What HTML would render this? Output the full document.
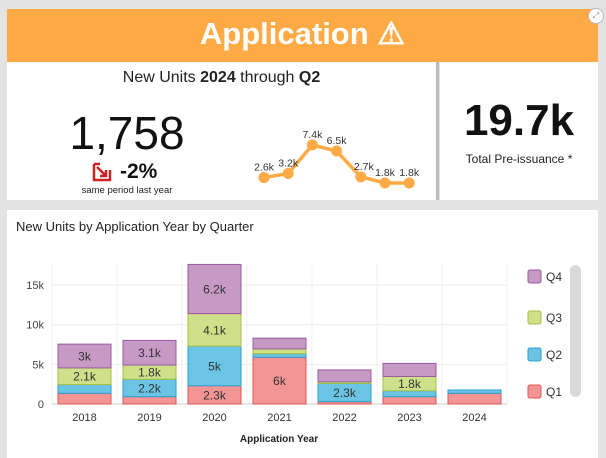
<!DOCTYPE html>
<html><head><meta charset="utf-8"><style>
body{margin:0;width:606px;height:458px;background:#e3e3e3;font-family:"Liberation Sans",sans-serif;position:relative;overflow:hidden}
.abs{position:absolute}
</style></head><body>
<div class="abs" style="left:7px;top:9px;width:591px;height:53px;background:#ffaa45;color:#fff;font-size:31px;font-weight:bold;text-align:center;line-height:50px">Application ⚠</div>
<div class="abs" style="left:588px;top:8px;width:14px;height:14px;border-radius:50%;background:#fff;border:1px solid #bbb;font-size:8px;text-align:center;line-height:14px;color:#888">⤢</div>
<div class="abs" style="left:7px;top:62px;width:429px;height:138px;background:#fff"></div>
<div class="abs" style="left:436px;top:62px;width:3px;height:138px;background:#bbb"></div>
<div class="abs" style="left:440px;top:62px;width:158px;height:138px;background:#fff"></div>
<div class="abs" style="left:7px;top:69px;width:429px;text-align:center;font-size:16px;color:#222">New Units <b>2024</b> through <b>Q2</b></div>
<div class="abs" style="left:27px;top:108px;width:200px;text-align:center;font-size:46px;color:#111;line-height:50px">1,758</div>
<svg class="abs" style="left:92px;top:162px" width="20" height="20" viewBox="0 0 20 20"><path d="M2 2 L8 2 M2 2 L2 18 L18 18 L18 8 M5 5 L14 14 M14 8 L14 14 L8 14" stroke="#cc2222" stroke-width="2.5" fill="none"/></svg>
<div class="abs" style="left:120px;top:160px;font-size:21px;font-weight:bold;color:#111">-2%</div>
<div class="abs" style="left:27px;top:185px;width:200px;text-align:center;font-size:9.5px;color:#222">same period last year</div>
<div class="abs" style="left:440px;top:96px;width:158px;text-align:center;font-size:44px;font-weight:bold;color:#111">19.7k</div>
<div class="abs" style="left:440px;top:152px;width:158px;text-align:center;font-size:12px;color:#222">Total Pre-issuance *</div>
<svg class="abs" id="spark" style="left:240px;top:110px" width="190" height="85"></svg>
<div class="abs" style="left:7px;top:210px;width:591px;height:248px;background:#fff"></div>
<div class="abs" style="left:16px;top:219px;font-size:13px;color:#222">New Units by Application Year by Quarter</div>
<svg class="abs" id="chart" style="left:0;top:0" width="606" height="458"></svg>
<div class="abs" style="left:570px;top:265px;width:11px;height:132px;background:#d9d9d9;border-radius:6px"></div>
<script>
const sparkVals=[2.6,3.2,7.4,6.5,2.7,1.8,1.8];
const sparkLabels=["2.6k","3.2k","7.4k","6.5k","2.7k","1.8k","1.8k"];
const years=["2018","2019","2020","2021","2022","2023","2024"];
const q1=[1.35,0.92,2.3,5.9,0.3,0.92,1.35];
const q2=[1.1,2.2,5.0,0.45,2.3,0.75,0.42];
const q3=[2.1,1.8,4.1,0.6,0.2,1.8,0];
const q4=[3.0,3.1,6.2,1.35,1.5,1.65,0];
const q1Lab=["","","2.3k","6k","","",""];
const q2Lab=["","2.2k","5k","","2.3k","",""];
const q3Lab=["2.1k","1.8k","4.1k","","","1.8k",""];
const q4Lab=["3k","3.1k","6.2k","","","",""];
const yTicks=[0,5,10,15];
const yTickLabels=["0","5k","10k","15k"];
const NS="http://www.w3.org/2000/svg";
function mk(p,t,a,txt){const e=document.createElementNS(NS,t);for(const k in a)e.setAttribute(k,a[k]);if(txt!==undefined)e.textContent=txt;p.appendChild(e);return e;}
const sp=document.getElementById('spark');
const sx=i=>24+i*24.2, sy=v=>73-(v-1.8)*6.8;
let d=sparkVals.map((v,i)=>(i?'L':'M')+sx(i)+' '+sy(v)).join(' ');
const pl=mk(sp,'path',{d:d,stroke:'#ffaa45','stroke-width':3.5,fill:'none'});


sparkVals.forEach((v,i)=>{
 const c=mk(sp,'circle',{cx:sx(i),cy:sy(v),r:5.5,fill:'#ffaa45'});
 
 
 const t=mk(sp,'text',{x:sx(i)+(i==4?3:0),y:sy(v)-7,'text-anchor':'middle','font-size':10.5,fill:'#333'},sparkLabels[i]);
 
 
});
const ch=document.getElementById('chart');
const L=52,R=507,Y0=404,K=7.93;
const bw=(R-L)/years.length;
const X=i=>L+bw*i, Y=v=>Y0-v*K;
yTicks.forEach((t,i)=>{
 const g=mk(ch,'line',{x1:L,x2:R,y1:Y(t),y2:Y(t),stroke:i?'#eee':'#ccc'});
 
 
 const tl=mk(ch,'text',{x:L-8,y:Y(t)+4,'text-anchor':'end','font-size':11,fill:'#444'},yTickLabels[i]);
 
 
});
years.forEach((y,i)=>{
 const vl=mk(ch,'line',{x1:X(i),x2:X(i),y1:264,y2:Y0,stroke:'#f0f0f0'});
 
 
});
mk(ch,'line',{x1:R,x2:R,y1:264,y2:Y0,stroke:'#f0f0f0'});
const series=[[q1,q1Lab,'#f49595','#e05555'],[q2,q2Lab,'#6cc4e4','#2a9fd0'],[q3,q3Lab,'#cfe08a','#a5c040'],[q4,q4Lab,'#c79ac6','#9a5aa0']];
const names=['q1','q2','q3','q4'];
years.forEach((y,i)=>{
 let base=0;
 series.forEach((s,j)=>{
  const v=s[0][i]; if(v<=0)return;
  const x=X(i)+(bw-53)/2;
  const r=mk(ch,'rect',{x:x,y:Y(base+v),width:53,height:v*K,fill:s[2],stroke:s[3],'stroke-width':1});
  
  
  if(s[1][i]){
   const t=mk(ch,'text',{x:x+26.5,y:Y(base+v/2)+4.5,'text-anchor':'middle','font-size':12,fill:'#333'},s[1][i]);
   
   
  }
  base+=v;
 });
 const xl=mk(ch,'text',{x:X(i)+bw/2,y:421,'text-anchor':'middle','font-size':11,fill:'#333'},y);
 
 
});
const at=mk(ch,'text',{x:279,y:442,'text-anchor':'middle','font-size':10,'font-weight':'bold',fill:'#222'},'Application Year');


const leg=[['Q4',3,276],['Q3',2,317],['Q2',1,354],['Q1',0,391]];
leg.forEach(l=>{
 const s=series[l[1]];
 const r=mk(ch,'rect',{x:528,y:l[2]-6,width:13,height:13,rx:2,fill:s[2],stroke:s[3]});
 
 
 const t=mk(ch,'text',{x:546,y:l[2]+5,'font-size':12,fill:'#333'},l[0]);
 
 
});
</script>
</body></html>
